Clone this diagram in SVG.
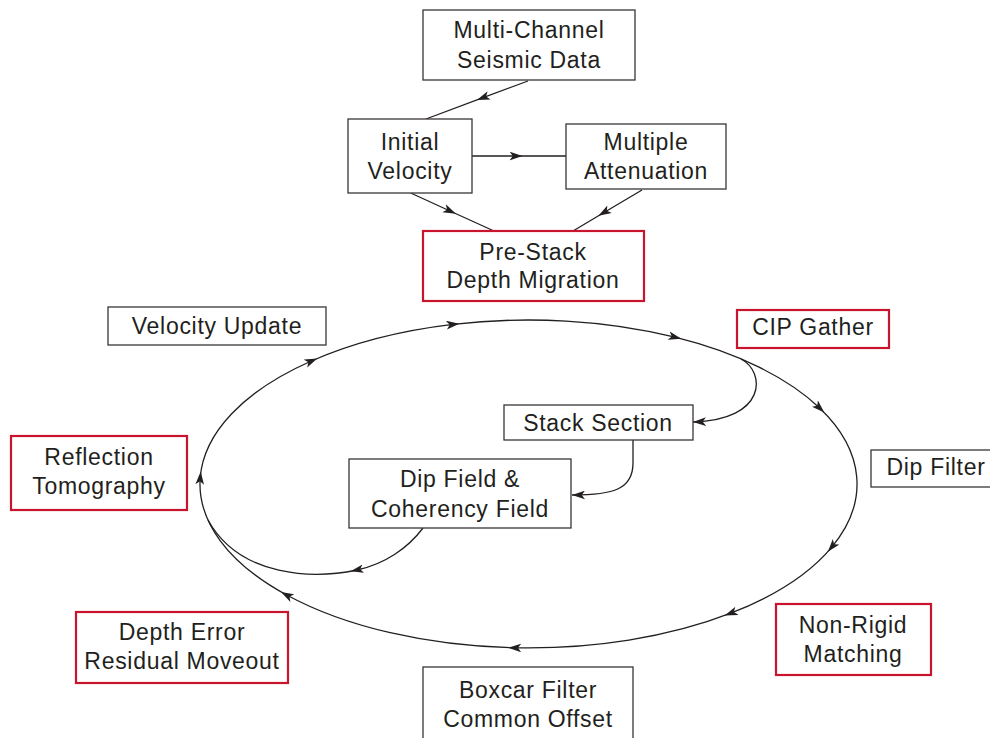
<svg xmlns="http://www.w3.org/2000/svg" width="990" height="738" viewBox="0 0 990 738">
<style>
.box{fill:#fff;stroke:#3a3536;stroke-width:1.3}
.red{fill:#fff;stroke:#c8142c;stroke-width:2.2}
.t{font-family:"Liberation Sans",Arial,sans-serif;font-size:23px;fill:#231f20;text-anchor:middle;letter-spacing:0.7px}
.ln{fill:none;stroke:#231f20;stroke-width:1.3}
.mid{marker-mid:url(#am)}
.end{marker-end:url(#ae)}
</style>
<defs>
<marker id="am" viewBox="0 0 12 8" refX="6" refY="4" markerWidth="13" markerHeight="9" markerUnits="userSpaceOnUse" orient="auto">
<path d="M0,0 L12,4 L0,8 L3,4 z" fill="#231f20"/>
</marker>
<marker id="ae" viewBox="0 0 12 8" refX="12" refY="4" markerWidth="13" markerHeight="9" markerUnits="userSpaceOnUse" orient="auto">
<path d="M0,0 L12,4 L0,8 L3,4 z" fill="#231f20"/>
</marker>
</defs>
<rect width="990" height="738" fill="#fff"/>
<g id="connectors">
<polyline class="ln mid" points="528,81 483,97.7 426,119"/>
<polyline class="ln mid" points="472,156 516,156 566,156"/>
<polyline class="ln mid" points="410.7,193 450,211 494,231"/>
<polyline class="ln mid" points="642,190 604,212.5 573,231"/>
<path class="ln mid" d="M311.4,361 A328.5,164 0 0 1 452.9,324.4 A328.5,164 0 0 1 675,337.2 A328.5,164 0 0 1 819.6,408 A328.5,164 0 0 1 832,546.8 A328.5,164 0 0 1 730.8,613.2 A328.5,164 0 0 1 514.7,647.8 A328.5,164 0 0 1 286.7,595 A328.5,164 0 0 1 200.2,478 A328.5,164 0 0 1 311.4,361" style="marker-end:url(#am)"/>
<path class="ln end" d="M741,359 C766,372 767,420 693,422"/>
<path class="ln end" d="M633,440 L633,463 C633,489 614,495 572,495"/>
<path class="ln mid" d="M423,528 C408,548 385,564 357,570 C315,579 240,578 208,520"/>
</g>
<g id="n_mcsd"><rect class="box" x="423" y="10" width="212" height="70"/><text class="t" x="529" y="38">Multi-Channel</text><text class="t" x="529" y="68">Seismic Data</text></g>
<g id="n_iv"><rect class="box" x="348" y="119" width="124" height="74"/><text class="t" x="410" y="150">Initial</text><text class="t" x="410" y="179">Velocity</text></g>
<g id="n_ma"><rect class="box" x="566" y="124" width="160" height="65"/><text class="t" x="646" y="150">Multiple</text><text class="t" x="646" y="179">Attenuation</text></g>
<g id="n_psdm"><rect class="red" x="423" y="231" width="221" height="70"/><text class="t" x="533" y="260">Pre-Stack</text><text class="t" x="533" y="288">Depth Migration</text></g>
<g id="n_vu"><rect class="box" x="108" y="307" width="218" height="38"/><text class="t" x="217" y="334">Velocity Update</text></g>
<g id="n_cip"><rect class="red" x="737" y="310" width="152" height="38"/><text class="t" x="813" y="335">CIP Gather</text></g>
<g id="n_ss"><rect class="box" x="504" y="405" width="189" height="35"/><text class="t" x="598" y="431">Stack Section</text></g>
<g id="n_df"><rect class="box" x="871" y="450" width="130" height="37"/><text class="t" x="936" y="475">Dip Filter</text></g>
<g id="n_rt"><rect class="red" x="11" y="436" width="176" height="74"/><text class="t" x="99" y="465">Reflection</text><text class="t" x="99" y="494">Tomography</text></g>
<g id="n_dfc"><rect class="box" x="349" y="459" width="222" height="69"/><text class="t" x="460" y="487">Dip Field &amp;</text><text class="t" x="460" y="517">Coherency Field</text></g>
<g id="n_nrm"><rect class="red" x="776" y="604" width="155" height="71"/><text class="t" x="853" y="633">Non-Rigid</text><text class="t" x="853" y="662">Matching</text></g>
<g id="n_derm"><rect class="red" x="76" y="612" width="212" height="71"/><text class="t" x="182" y="640">Depth Error</text><text class="t" x="182" y="669">Residual Moveout</text></g>
<g id="n_bcf"><rect class="box" x="423" y="667" width="210" height="80"/><text class="t" x="528" y="698">Boxcar Filter</text><text class="t" x="528" y="727">Common Offset</text></g>
</svg>
